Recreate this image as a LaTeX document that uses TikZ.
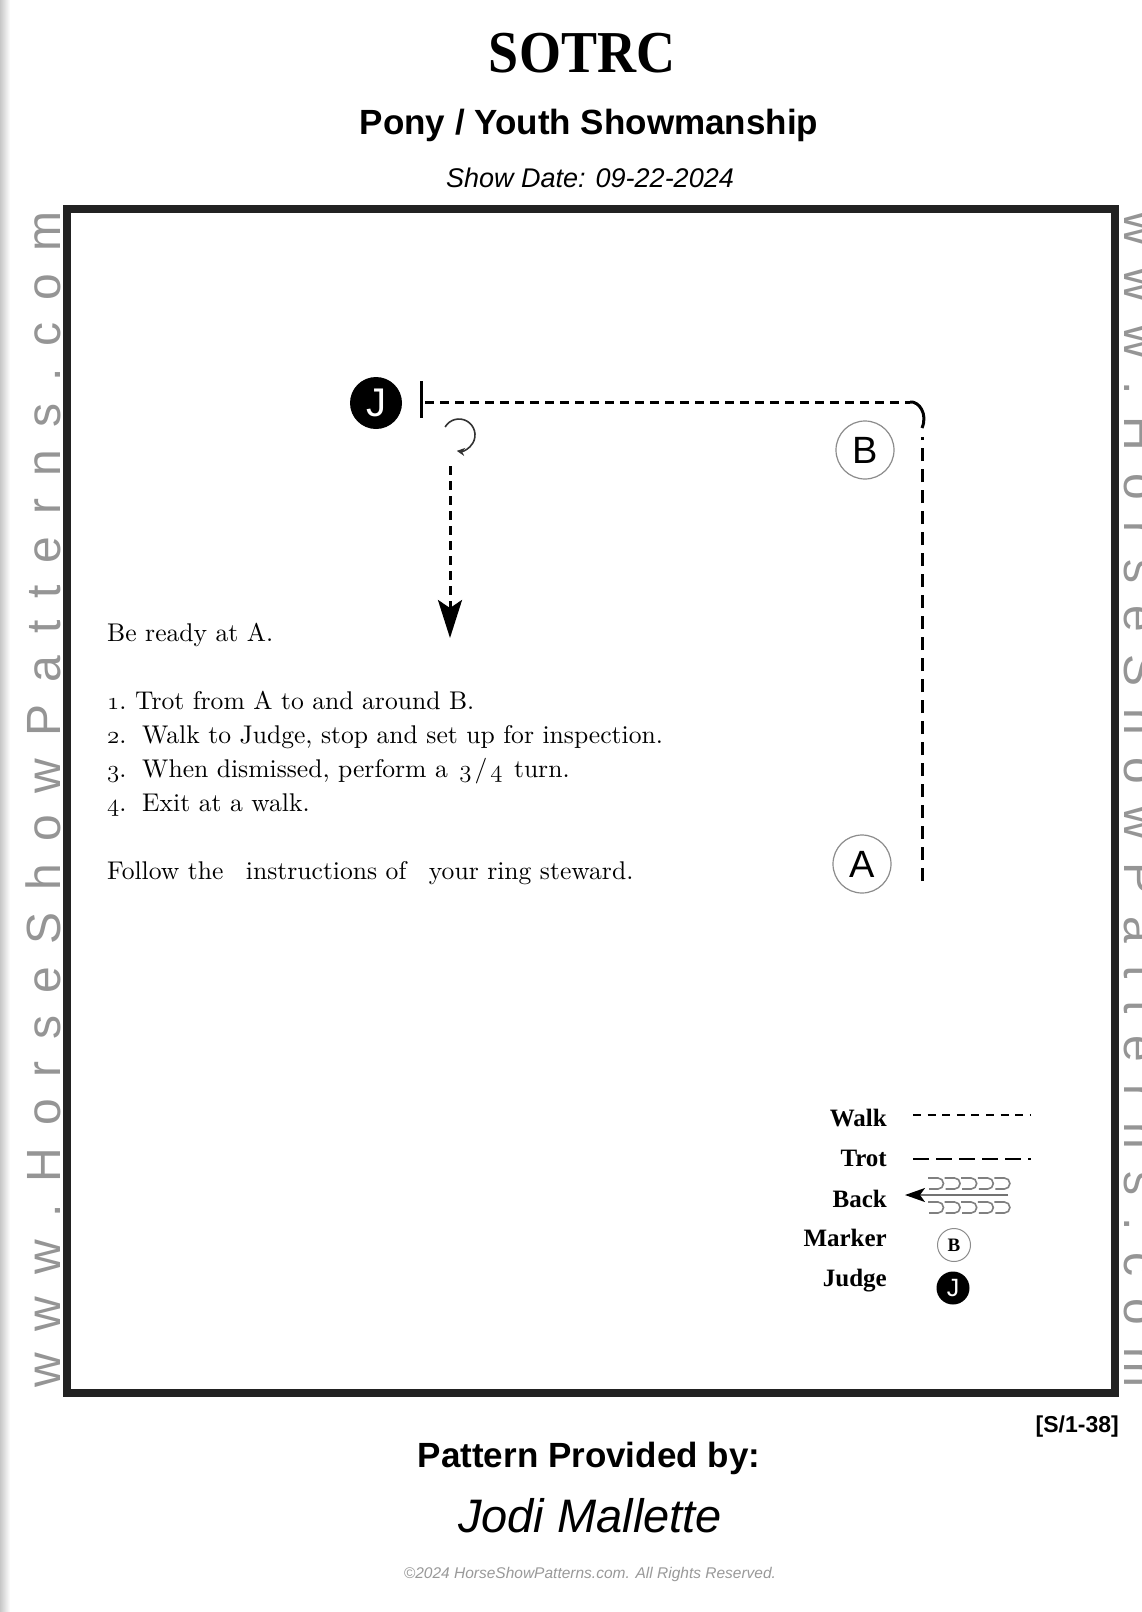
\documentclass[tikz,border=0pt]{standalone}
\usepackage{fontspec}
\usepackage{graphicx}
\usetikzlibrary{arrows.meta}
\newfontfamily\lsans{Liberation Sans}
\newfontfamily\lserif{Liberation Serif}
\newfontfamily\lmten[Extension=.otf]{lmroman10-regular}
\newcommand\osf[1]{{\usefont{OML}{lmm}{m}{it}#1}}
\newcommand\fs[1]{\fontsize{#1}{#1}\selectfont}
\definecolor{framec}{HTML}{222222}
\definecolor{wmark}{HTML}{959595}
\definecolor{mkc}{HTML}{8C8C8C}
\newdimen\wmk
\def\spreadit#1{\spreadA#1\relax}
\def\spreadA#1{\ifx\relax#1\else#1\kern\wmk\expandafter\spreadA\fi}
\begin{document}
\begin{tikzpicture}[x=1pt,y=-1pt,inner sep=0pt,
  walk/.style={line width=3pt, dash pattern=on 9pt off 6pt},
  trot/.style={line width=3pt, dash pattern=on 13pt off 8pt},
  marker/.style={circle, draw=mkc, line width=1.2pt, minimum size=58pt, inner sep=0pt, font={\lsans\fs{38}}},
  judge/.style={circle, fill=black, minimum size=52pt, inner sep=0pt, text=white, font={\lsans\fs{40}}},
  body/.style={anchor=base west, inner sep=0pt, font={\lmten\fs{25.6}}},
  legend/.style={anchor=base east, inner sep=0pt, font={\lserif\bfseries\fs{25}}},
  hook/.style={draw=black!50, line width=1.6pt},
  wm/.style={inner sep=0pt, text=wmark, font={\lsans\fs{48}}},
]
\useasboundingbox (0,0) rectangle (1141,1612);
\fill[white] (0,0) rectangle (1141,1612);
\shade[left color=black!22, right color=white] (0,0) rectangle (10,1612);

% frame
\draw[framec, line width=8pt] (67,208.5) rectangle (1115,1392.5);

% titles
\node[anchor=base, font={\lserif\bfseries\fs{54}}] (title) at (582,72) {\scalebox{1}[1.1]{SOTRC}};
\node[anchor=base, font={\lsans\bfseries\fs{35}}] (sub) at (589,134) {Pony / Youth Showmanship};
\node[anchor=base, font={\lsans\itshape\fs{27}}] (date) at (590,187) {Show Date: 09-22-2024};

% watermarks
\begin{scope}
\clip (0,0) rectangle (1141,1612);
\node[wm, rotate=90, anchor=base west] (wml) at (60,1388) {\wmk=22pt\spreadit{www.HorseShowPatterns.com}};
\node[wm, rotate=-90, anchor=base west] (wmr) at (1124,211) {\wmk=22pt\spreadit{www.HorseShowPatterns.com}};
\end{scope}

% pattern
\node[judge] (J) at (376,403) {J};
\coordinate (barT) at (421.5,381);
\coordinate (barB) at (421.5,418);
\draw[line width=2.5pt] (barT) -- (barB);
\coordinate (ws) at (425,402);
\coordinate (we) at (910,402);
\draw[walk] (ws) -- (we);
\coordinate (cend) at (922,428);
\draw[line width=3pt] (we) .. controls (919,401) and (928,414) .. (cend);
\coordinate (ts) at (922,437);
\coordinate (te) at (922,881);
\draw[trot] (te) -- (ts);

\coordinate (tc) at (459,435);
\draw[line width=1.6pt, black!80, -{Stealth[length=8pt,width=8pt]}] ([shift={(210:16)}]tc) arc[start angle=210, end angle=458, radius=16];

\coordinate (xs) at (450,466);
\coordinate (xe) at (450,638);
\draw[walk, -{Stealth[length=38pt,width=24pt,inset=8pt]}] (xs) -- (xe);

\node[marker] (B) at (865,450) {B};
\node[marker] (A) at (862,864) {A};

% instructions
\node[body] (l0) at (107,641) {Be ready at A.};
\node[body] (n1) at (107,709) {\osf{1}.};
\node[body] (t1) at (135,709) {Trot from A to and around B.};
\node[body] (n2) at (107,743) {\osf{2}.};
\node[body] (t2) at (142,743) {Walk to Judge, stop and set up for inspection.};
\node[body] (n3) at (107,777) {\osf{3}.};
\node[body] (t3) at (142,777) {When dismissed, perform a\hspace{3pt} \osf{3}\kern3pt/\kern3pt\osf{4}\hspace{3pt} turn.};
\node[body] (n4) at (107,811) {\osf{4}.};
\node[body] (t4) at (142,811) {Exit at a walk.};
\node[body] (l5) at (107,879) {Follow the\hspace{14pt} instructions of\hspace{14pt} your ring steward.};

% legend
\node[legend] (lw) at (887,1126) {Walk};
\node[legend] (lt) at (887,1166) {Trot};
\node[legend] (lb) at (887,1207) {Back};
\node[legend] (lm) at (887,1246) {Marker};
\node[legend] (lj) at (887,1286) {Judge};
\coordinate (lws) at (913,1115); \coordinate (lwe) at (1031,1115);
\draw[line width=2.5pt, dash pattern=on 8pt off 6.6pt] (lws) -- (lwe);
\coordinate (lts) at (913,1159); \coordinate (lte) at (1031,1159);
\draw[line width=2.5pt, dash pattern=on 16pt off 7pt] (lts) -- (lte);
\foreach \i in {0,...,4} {
  \draw[hook] (928+16.6*\i,1178) -- ++(10,0) arc[start angle=-90, end angle=90, radius=5.5] -- ++(-9,0);
  \draw[hook] (928+16.6*\i,1202) -- ++(10,0) arc[start angle=-90, end angle=90, radius=5.5] -- ++(-9,0);
}
\coordinate (lbs) at (1008,1195); \coordinate (lbe) at (905,1195);
\draw[line width=2pt, black!55, -{Stealth[length=20pt,width=14pt,inset=5pt,color=black]}] (lbs) -- (lbe);
\node[circle, draw=mkc, line width=1pt, minimum size=33pt, font={\lserif\bfseries\fs{19}}] (mB) at (954,1245) {B};
\node[circle, fill=black, minimum size=33pt, text=white, font={\lsans\fs{25}}] (mJ) at (953,1288) {J};

% footer
\node[anchor=base east, font={\lsans\bfseries\fs{23}}] (code) at (1119,1432) {[S/1-38]};
\node[anchor=base, font={\lsans\bfseries\fs{35}}] (prov) at (589,1467) {Pattern Provided by:};
\node[anchor=base, font={\lsans\itshape\fs{47}}] (name) at (590,1532) {Jodi Mallette};
\node[anchor=base, text=black!40, font={\lsans\itshape\fs{15.5}}] (copy) at (590,1578) {©2024 HorseShowPatterns.com. All Rights Reserved.};
\end{tikzpicture}
\end{document}
